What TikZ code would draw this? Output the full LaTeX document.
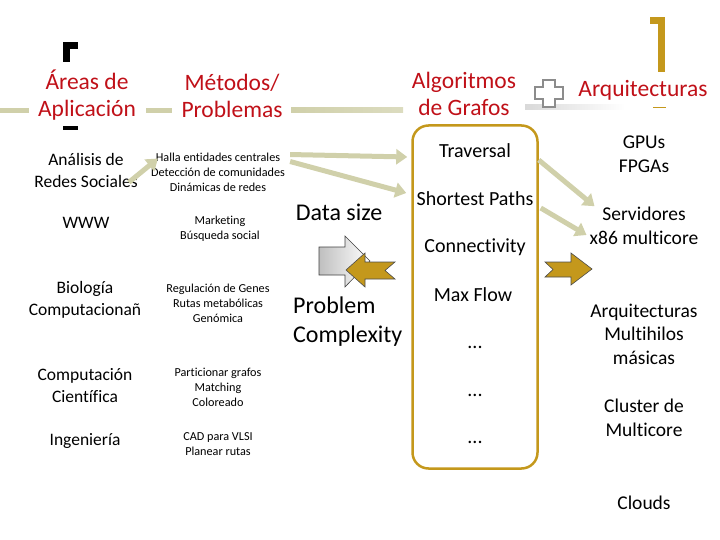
\documentclass[tikz,border=0pt]{standalone}
\usepackage{fontspec}
\setmainfont{Carlito}[Ligatures=NoCommon]
\usetikzlibrary{arrows.meta,positioning,calc}

\definecolor{titred}{RGB}{192,16,24}
\definecolor{oro}{RGB}{196,152,28}
\definecolor{caqui}{RGB}{208,208,170}

\begin{document}
\begin{tikzpicture}[
  x=1pt, y=-1pt,
  titulo/.style={
    text=titred,
    align=center,
    font=\fontsize{23.5}{27.5}\selectfont,
    inner sep=1pt
  },
  area/.style={
    align=center,
    font=\fontsize{17.5}{22}\selectfont,
    inner sep=1pt
  },
  metodo/.style={
    align=center,
    font=\fontsize{12.2}{15}\selectfont,
    inner sep=1pt
  },
  algo/.style={
    font=\fontsize{20}{22}\selectfont,
    inner sep=1pt
  },
  arq/.style={
    align=center,
    font=\fontsize{19.5}{23.5}\selectfont,
    inner sep=1pt
  },
  grande/.style={
    align=left,
    font=\fontsize{24}{29}\selectfont,
    inner sep=1pt
  },
  flecha/.style={-{Triangle[length=11pt,width=15pt]}, line width=5pt, draw=caqui},
  barra/.style={fill=caqui, draw=none}
]
\useasboundingbox (0,0) rectangle (720,540);

\fill[barra] (0,108) rectangle (29,113);
\fill[barra] (146,108) rectangle (172,113);
\shade[left color=caqui, right color=caqui!75] (291,108) rectangle (403,113);
\shade[left color=black!15, right color=white] (525,105) rectangle (625,110);

\fill (63,42) rectangle (78,49);
\fill (63,42) rectangle (70,62);
\fill (63,126) rectangle (78,130);
\fill[oro] (650,17) rectangle (665,24);
\fill[oro] (658,17) rectangle (665,72);
\draw[oro, line width=1pt] (653,107.5) -- (666,107.5);
\draw[black!45, line width=2pt, fill=white]
  (543,80) -- (555,80) -- (555,87) -- (563,87) -- (563,99) -- (555,99) -- (555,107)
  -- (543,107) -- (543,99) -- (535,99) -- (535,87) -- (543,87) -- cycle;

\node[titulo] (tarea) at (87,95) {Áreas de\\Aplicación};
\node[titulo] (tmetodo) at (232,96) {Métodos/\\Problemas};
\node[titulo] (talgo) at (464,94) {Algoritmos\\de Grafos};
\node[titulo] (tarq) at (643,90) {Arquitecturas};

\node[area] (redes) at (86,170) {Análisis de\\Redes Sociales};
\node[area] (www) at (86,223) {WWW};
\node[area] (bio) at (85,300) {Biología\\Computacionañ};
\node[area] (cient) at (85,386) {Computación\\Científica};
\node[area] (ing) at (85,441) {Ingeniería};

\node[metodo] (halla) at (218,172) {Halla entidades centrales\\Detección de comunidades\\Dinámicas de redes};
\node[metodo] (mkt) at (220,229) {Marketing\\Búsqueda social};
\node[metodo] (genes) at (218,303) {Regulación de Genes\\Rutas metabólicas\\Genómica};
\node[metodo] (part) at (218,387) {Particionar grafos\\Matching\\Coloreado};
\node[metodo] (cad) at (218,444) {CAD para VLSI\\Planear rutas};

\node[grande] (datos) at (339,212) {Data size};
\node[grande, anchor=west] (compl) at (292,322) {Problem\\Complexity};

\shade[left color=black!25, right color=white, draw=black!75, line width=0.6pt]
  (319,247) -- (345,247) -- (345,236) -- (370,261) -- (345,287) -- (345,275) -- (319,275) -- cycle;
\draw[fill=oro, draw=black!70, line width=0.6pt]
  (346,270) -- (365,253) -- (365,262) -- (395,262) -- (385,270.5) -- (395,279) -- (365,279) -- (365,287) -- cycle;

\node[draw=oro, line width=2.5pt, rounded corners=16pt,
  minimum width=125pt, minimum height=343pt] (caja) at (475,297) {};
\node[algo] (trav) at (475,151) {Traversal};
\node[algo] (sp) at (475,199) {Shortest Paths};
\node[algo] (conn) at (475,247) {Connectivity};
\node[algo] (mf) at (473,295) {Max Flow};
\node[algo] (p1) at (475,347) {...};
\node[algo] (p2) at (475,395) {...};
\node[algo] (p3) at (475,442) {...};

\node[arq] (gpu) at (644,154) {GPUs\\FPGAs};
\node[arq] (serv) at (644,226) {Servidores\\x86 multicore};
\node[arq] (multi) at (644,334) {Arquitecturas\\Multihilos\\másicas};
\node[arq] (clus) at (644,418) {Cluster de\\Multicore};
\node[arq] (cloud) at (644,503) {Clouds};

\draw[fill=oro, draw=black!70, line width=0.6pt]
  (592,269) -- (571,253) -- (571,262) -- (545,262) -- (553,269.5) -- (545,277) -- (571,277) -- (571,285) -- cycle;

\draw[flecha] ($(redes.south east)+(-10,-6)$) -- ($(halla.north west)+(8,7)$);
\draw[flecha] ($(halla.north east)+(4,3)$) -- ($(caja.west |- trav)+(-4,6)$);
\draw[flecha] ($(halla.north east)+(4,10)$) -- ($(caja.west |- sp)+(-5,-6)$);
\draw[flecha] ($(caja.east |- trav)+(0,9)$) -- ($(serv.north west)+(6,0)$);
\draw[flecha] ($(caja.east |- sp)+(2,9)$) -- ($(serv.west)+(-2,9)$);

\end{tikzpicture}
\end{document}
